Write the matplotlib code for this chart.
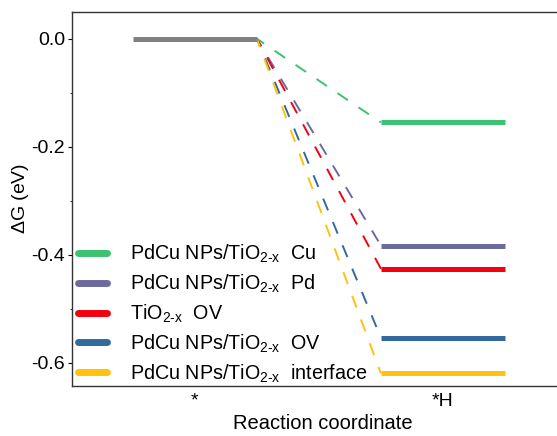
import numpy as np
import matplotlib
matplotlib.use("Agg")
import matplotlib.pyplot as plt

plt.rcParams['font.family'] = ['Liberation Sans', 'DejaVu Sans']
plt.rcParams['mathtext.fontset'] = 'custom'
plt.rcParams['mathtext.rm'] = 'Liberation Sans'

steps = ["*", "*H"]
start_energy = 0.0
labels = [r"PdCu NPs/TiO$_{\rm 2\text{-}x}$  Cu",
          r"PdCu NPs/TiO$_{\rm 2\text{-}x}$  Pd",
          r"TiO$_{\rm 2\text{-}x}$  OV",
          r"PdCu NPs/TiO$_{\rm 2\text{-}x}$  OV",
          r"PdCu NPs/TiO$_{\rm 2\text{-}x}$  interface"]
h_energy = [-0.155, -0.383, -0.426, -0.554, -0.620]
colours = ["#3cc272", "#6b6b9e", "#f5000f", "#336a9e", "#ffc20f"]

fig = plt.figure(figsize=(5.57, 4.36), dpi=100)
ax = fig.add_axes([0.129, 0.115, 0.9, 0.858])

hw = 0.25
ax.plot([0 - hw, 0 + hw], [start_energy, start_energy], color="#808080", lw=3.6,
        solid_capstyle="butt", zorder=3)
for e, c, lab in zip(h_energy, colours, labels):
    ax.plot([1 - hw, 1 + hw], [e, e], color=c, lw=3.6, solid_capstyle="butt", label=lab, zorder=3)
    ax.plot([0 + hw, 1 - hw], [start_energy, e], color=c, lw=1.4, ls=(2, (6.5, 6.5)), zorder=2)

# axes wider than the figure: right spine falls outside the picture
ax.set_xlim(-0.496, -0.496 + 1.956 * 0.9 / 0.871)
ax.set_ylim(-0.643, 0.05)
ax.set_xticks([0, 1])
ax.set_xticklabels(steps, fontsize=14)
ax.tick_params(axis="x", length=0, pad=5)
ax.set_yticks([0.0, -0.2, -0.4, -0.6])
ax.set_yticklabels(["0.0", "-0.2", "-0.4", "-0.6"], fontsize=14)
ax.set_yticks([-0.1, -0.3, -0.5], minor=True)
ax.tick_params(axis="y", which="major", length=3, direction="out", pad=2)
ax.tick_params(axis="y", which="minor", length=1.5, direction="out")
ax.spines["right"].set_visible(False)
for s in ["left", "top", "bottom"]:
    ax.spines[s].set_linewidth(1.0)
    ax.spines[s].set_color("#333333")

ax.set_ylabel(r"$\Delta$G (eV)", fontsize=14, labelpad=0)
ax.set_xlabel("Reaction coordinate", fontsize=14.5, labelpad=3)

leg = ax.legend(loc="lower left", bbox_to_anchor=(-0.024, -0.044), frameon=False, fontsize=14.2,
                handlelength=1.5, handletextpad=1.16, labelspacing=0.385)
for h in leg.get_lines():
    h.set_linewidth(5)
    h.set_solid_capstyle("round")

fig.savefig("out.png", dpi=100)
